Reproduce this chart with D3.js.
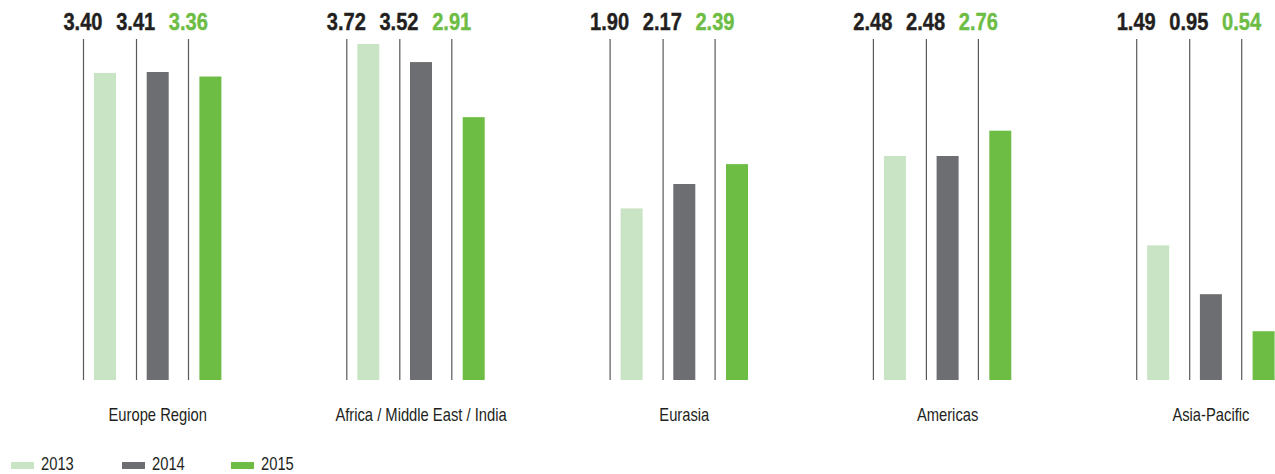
<!DOCTYPE html>
<html>
<head>
<meta charset="utf-8">
<script src="https://cdn.jsdelivr.net/npm/d3@7"></script>
<style>
  html, body { margin: 0; padding: 0; background: #fff; }
  svg { display: block; }
  text { font-family: 'Liberation Sans', Arial, sans-serif; }
</style>
</head>
<body>
<svg id="chart" width="1275" height="474"></svg>
<script>
// Regions and yearly values
const categories = ["Europe Region", "Africa / Middle East / India", "Eurasia", "Americas", "Asia-Pacific"];
const years = ["2013", "2014", "2015"];
const values2013 = [3.40, 3.72, 1.90, 2.48, 1.49];
const values2014 = [3.41, 3.52, 2.17, 2.48, 0.95];
const values2015 = [3.36, 2.91, 2.39, 2.76, 0.54];
const seriesValues = [values2013, values2014, values2015];

const colors = { "2013": "#c9e4c5", "2014": "#6d6e71", "2015": "#6dbd45" };
const labelColors = { "2013": "#231f20", "2014": "#231f20", "2015": "#6dbd45" };

// Horizontal squeeze giving a condensed type look
const condense = 0.82;

const svg = d3.select("#chart");

const baseline = 380;
const lineTop = 39;

// Region groups, one band per region
const x0 = d3.scaleBand()
  .domain(categories)
  .range([83, 83 + 263.3 * categories.length])
  .paddingInner(0).paddingOuter(0);

// Years within a region
const x1 = d3.scaleBand()
  .domain(years)
  .range([0, 52.7 * years.length]);

const y = d3.scaleLinear()
  .domain([0, 3.72])
  .range([baseline, 44]);

const barOffset = 11, barWidth = 22;

const rows = categories.map((c, i) => ({
  category: c,
  items: years.map((yr, j) => ({ year: yr, value: seriesValues[j][i] }))
}));

const groups = svg.selectAll("g.region")
  .data(rows)
  .join("g")
  .attr("class", "region")
  .attr("transform", d => `translate(${x0(d.category)},0)`);

// Divider lines to the left of each bar
groups.selectAll("line.sep")
  .data(d => d.items)
  .join("line")
  .attr("class", "sep")
  .attr("x1", d => Math.round(x1(d.year)) + 0.5)
  .attr("x2", d => Math.round(x1(d.year)) + 0.5)
  .attr("y1", lineTop)
  .attr("y2", baseline)
  .attr("stroke", "#58595b")
  .attr("stroke-width", 1.2);

// Bars
groups.selectAll("rect.bar")
  .data(d => d.items)
  .join("rect")
  .attr("class", "bar")
  .attr("x", d => x1(d.year) + barOffset)
  .attr("width", barWidth)
  .attr("y", d => y(d.value))
  .attr("height", d => baseline - y(d.value))
  .attr("fill", d => colors[d.year]);

// Value labels above each divider
groups.selectAll("text.val")
  .data(d => d.items)
  .join("text")
  .attr("class", "val")
  .attr("transform", d => `translate(${x1(d.year)},30) scale(${condense},1)`)
  .attr("text-anchor", "middle")
  .attr("font-size", 24.5)
  .attr("font-weight", "bold")
  .attr("stroke", d => labelColors[d.year])
  .attr("stroke-width", 0.4)
  .attr("fill", d => labelColors[d.year])
  .text(d => d.value.toFixed(2));

// Region names, centred under the bars
const barsLeft = x1(years[0]) + barOffset;
const barsRight = x1(years[years.length - 1]) + barOffset + barWidth;
groups.append("text")
  .attr("transform", `translate(${(barsLeft + barsRight) / 2},421) scale(${condense},1)`)
  .attr("text-anchor", "middle")
  .attr("font-size", 18)
  .attr("fill", "#231f20")
  .text(d => d.category);

// Legend
const legendX = [11, 122, 231];
const legend = svg.selectAll("g.legend")
  .data(years)
  .join("g")
  .attr("class", "legend")
  .attr("transform", (d, i) => `translate(${legendX[i]},0)`);

legend.append("rect")
  .attr("x", 0).attr("y", 462)
  .attr("width", 23).attr("height", 7)
  .attr("fill", d => colors[d]);

legend.append("text")
  .attr("transform", `translate(30,470) scale(${condense},1)`)
  .attr("font-size", 18)
  .attr("fill", "#231f20")
  .text(d => d);
</script>
</body>
</html>
